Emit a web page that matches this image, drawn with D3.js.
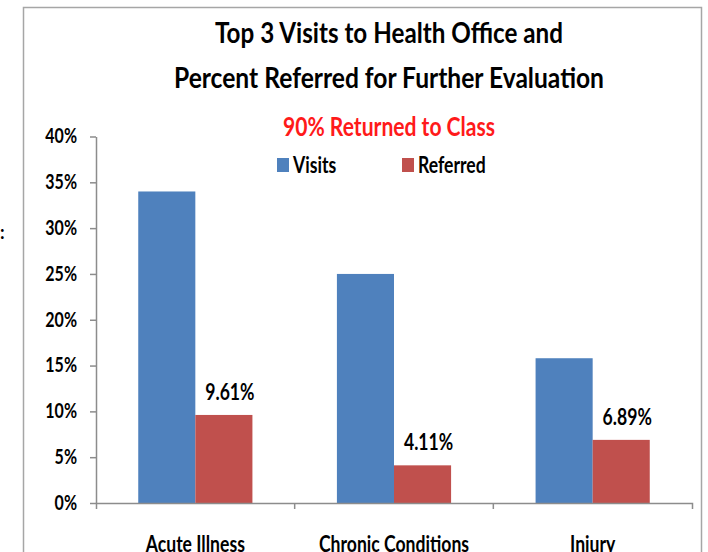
<!DOCTYPE html>
<html>
<head>
<meta charset="utf-8">
<script src="https://cdn.jsdelivr.net/npm/d3@7"></script>
<style>
  html, body { margin: 0; padding: 0; background: #fff; overflow: hidden; }
  svg { display: block; }
  text { font-family: Lato, "Open Sans", sans-serif; font-weight: bold; }
</style>
</head>
<body>
<div id="chart"></div>
<script>

// Data /////////////////////////////////////////////////////////////////////

const categories = ["Acute Illness", "Chronic Conditions", "Injury"];
const seriesNames = ["Visits", "Referred"];
const visits = [34, 25, 15.8];
const referred = [9.61, 4.11, 6.89];
const yTicks = [0, 5, 10, 15, 20, 25, 30, 35, 40];
const titleLines = ["Top 3 Visits to Health Office and", "Percent Referred for Further Evaluation"];
const subtitle = "90% Returned to Class";

const params = {
    width: 708,
    height: 552,
    left: 96,
    right: 692,
    top: 136.5,
    bottom: 503,
    squeeze: 0.8   // the reference font is narrow, squash Lato to match
};

const color = d3.scaleOrdinal()
    .domain(seriesNames)
    .range(["#4f81bd", "#c0504d"]);

// squash text horizontally by a factor, keeping its anchor
function condense(sel, k) {
    sel.each(function() {
        const w = this.getComputedTextLength();
        d3.select(this)
            .attr("textLength", w * k)
            .attr("lengthAdjust", "spacingAndGlyphs");
    });
}

const svg = d3.select("#chart")
    .append("svg")
        .attr("width", params.width)
        .attr("height", params.height)
        .attr("viewBox", [0, 0, params.width, params.height]);

// chart frame (runs off the bottom of the picture)
svg.append("rect")
    .attr("x", 23.5)
    .attr("y", 7.5)
    .attr("width", 678)
    .attr("height", 600)
    .attr("fill", "#fff")
    .attr("stroke", "#a6a6a6")
    .attr("stroke-width", 1.5);

// stray colon on the far left
svg.append("text")
    .attr("x", 0)
    .attr("y", 239)
    .attr("font-size", 18)
    .attr("font-weight", "normal")
    .text(":");

// Scales //////////////////////////////////////////////////////////////////

const x = d3.scaleBand()
    .domain(categories)
    .range([params.left, params.right])
    .paddingInner(0)
    .paddingOuter(0);

const x1 = d3.scaleBand()
    .domain(seriesNames)
    .range([0, x.bandwidth()])
    .paddingInner(0)
    .paddingOuter(0.74);

const y = d3.scaleLinear()
    .domain([0, 40])
    .range([params.bottom, params.top]);

const rows = categories.map((c, i) => ({
    category: c,
    values: [
        { series: "Visits", value: visits[i] },
        { series: "Referred", value: referred[i] }
    ]
}));

// Title ///////////////////////////////////////////////////////////////////

const titleWidths = [348, 430];
svg.append("g")
    .selectAll("text")
    .data(titleLines)
    .join("text")
    .attr("x", 389)
    .attr("y", (d, i) => 43 + i * 45)
    .attr("text-anchor", "middle")
    .attr("font-size", 28)
    .attr("fill", "#000")
    .attr("textLength", (d, i) => titleWidths[i])
    .attr("lengthAdjust", "spacingAndGlyphs")
    .text(d => d);

svg.append("text")
    .attr("x", 389)
    .attr("y", 136)
    .attr("text-anchor", "middle")
    .attr("font-size", 26)
    .attr("fill", "#ff1a1a")
    .attr("textLength", 212)
    .attr("lengthAdjust", "spacingAndGlyphs")
    .text(subtitle);

// Legend //////////////////////////////////////////////////////////////////

const legendX = [277, 402];
const legend = svg.append("g")
    .selectAll("g")
    .data(seriesNames)
    .join("g")
    .attr("transform", (d, i) => `translate(${legendX[i]}, 158)`);

legend.append("rect")
    .attr("width", 12)
    .attr("height", 14)
    .attr("fill", d => color(d));

legend.append("text")
    .attr("x", 16)
    .attr("y", 15)
    .attr("font-size", 22)
    .text(d => d)
    .call(condense, params.squeeze);

// Axes ////////////////////////////////////////////////////////////////////

const yAxis = svg.append("g")
    .attr("transform", `translate(${params.left}, 0)`)
    .call(d3.axisLeft(y)
        .tickValues(yTicks)
        .tickFormat(d => d + "%")
        .tickSize(6)
        .tickSizeOuter(0)
        .tickPadding(13));

yAxis.select(".domain").attr("stroke", "#8c8c8c").attr("stroke-width", 1.5);
yAxis.selectAll(".tick line").attr("stroke", "#8c8c8c").attr("stroke-width", 1.5);
yAxis.selectAll(".tick text")
    .attr("font-family", "Lato, 'Open Sans', sans-serif")
    .attr("font-weight", "bold")
    .attr("font-size", 20)
    .attr("fill", "#000")
    .call(condense, params.squeeze);

// Bars ////////////////////////////////////////////////////////////////////

const groups = svg.append("g")
    .selectAll("g")
    .data(rows)
    .join("g")
    .attr("transform", d => `translate(${x(d.category)}, 0)`);

groups.selectAll("rect")
    .data(d => d.values)
    .join("rect")
    .attr("x", d => x1(d.series))
    .attr("y", d => y(d.value))
    .attr("width", x1.bandwidth())
    .attr("height", d => y(0) - y(d.value))
    .attr("fill", d => color(d.series));

// value labels on the referred bars
groups.append("text")
    .attr("x", d => x1("Referred") + x1.bandwidth() / 2 + 6)
    .attr("y", d => y(d.values[1].value) - 15)
    .attr("text-anchor", "middle")
    .attr("font-size", 22)
    .attr("fill", "#000")
    .text(d => d3.format(".2f")(d.values[1].value) + "%")
    .call(condense, params.squeeze);

const xAxis = svg.append("g")
    .attr("transform", `translate(0, ${params.bottom})`)
    .call(d3.axisBottom(x)
        .tickSize(0)
        .tickSizeOuter(6)
        .tickPadding(0));

xAxis.select(".domain").attr("stroke", "#8c8c8c").attr("stroke-width", 1.5);
xAxis.selectAll(".tick text")
    .attr("y", 49)
    .attr("dy", 0)
    .attr("font-family", "Lato, 'Open Sans', sans-serif")
    .attr("font-weight", "bold")
    .attr("font-size", 22)
    .attr("fill", "#000")
    .call(condense, params.squeeze);

// tick marks between the categories
xAxis.append("g")
    .selectAll("line")
    .data(categories.slice(1))
    .join("line")
    .attr("x1", d => x(d))
    .attr("x2", d => x(d))
    .attr("y1", 0)
    .attr("y2", 6)
    .attr("stroke", "#8c8c8c")
    .attr("stroke-width", 1.5);

</script>
</body>
</html>
